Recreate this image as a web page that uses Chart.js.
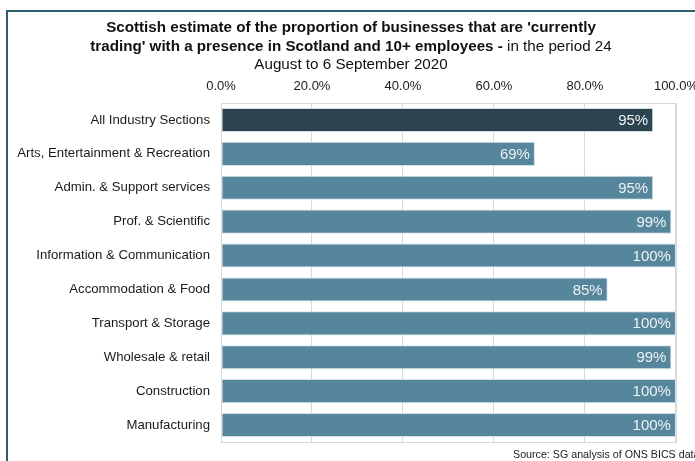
<!DOCTYPE html>
<html>
<head>
<meta charset="utf-8">
<script src="https://cdn.jsdelivr.net/npm/chart.js@4.4.0/dist/chart.umd.min.js"></script>
<style>
  html, body { margin: 0; padding: 0; background: #fff; overflow: hidden; }
  #wrap { position: relative; width: 695px; height: 461px; overflow: hidden; }
</style>
</head>
<body>
<div id="wrap"><canvas id="chart" width="707" height="461"></canvas></div>
<script>
const industries = [
  'All Industry Sections',
  'Arts, Entertainment & Recreation',
  'Admin. & Support services',
  'Prof. & Scientific',
  'Information & Communication',
  'Accommodation & Food',
  'Transport & Storage',
  'Wholesale & retail',
  'Construction',
  'Manufacturing'
]
const tradingPct = [95, 69, 95, 99, 100, 85, 100, 99, 100, 100]
const xTicks = [0, 20, 40, 60, 80, 100]

const titleLines = [
  [{text: "Scottish estimate of the proportion of businesses that are 'currently", bold: true}],
  [{text: "trading' with a presence in Scotland and 10+ employees -", bold: true},
   {text: " in the period 24", bold: false}],
  [{text: 'August to 6 September 2020', bold: false}]
]
const sourceNote = 'Source: SG analysis of ONS BICS data'

const FONT = "'Liberation Sans', Arial, sans-serif"
const DARK = '#2c4450'
const BLUE = '#56869c'

// frame, title, plot box and source line
const decorations = {
  id: 'decorations',
  beforeDraw(chart){
    const ctx = chart.ctx
    ctx.save()
    ctx.strokeStyle = '#2f5e6c'
    ctx.lineWidth = 2
    ctx.strokeRect(7, 11, 800, 600)
    ctx.restore()
  },
  afterDraw(chart){
    const ctx = chart.ctx
    const a = chart.chartArea
    ctx.save()
    ctx.strokeStyle = '#d9d9d9'
    ctx.lineWidth = 1
    ctx.strokeRect(a.left + 0.5, a.top + 0.5, a.right - a.left, a.bottom - a.top)

    // title, mixed bold / regular runs
    ctx.fillStyle = '#111'
    ctx.textBaseline = 'middle'
    const ys = [28, 47, 65]
    titleLines.forEach((runs, i) => {
      let total = 0
      runs.forEach(r => {
        ctx.font = (r.bold ? 'bold ' : '') + '15.2px ' + FONT
        r.w = ctx.measureText(r.text).width
        total += r.w
      })
      let x = 351 - total / 2
      runs.forEach(r => {
        ctx.font = (r.bold ? 'bold ' : '') + '15.2px ' + FONT
        ctx.textAlign = 'left'
        ctx.fillText(r.text, x, ys[i])
        x += r.w
      })
    })

    ctx.font = '10.7px ' + FONT
    ctx.fillStyle = '#222'
    ctx.textAlign = 'left'
    ctx.fillText(sourceNote, 513, 455)
    ctx.restore()
  }
}

// percentage labels inside the bar ends
const barLabels = {
  id: 'barLabels',
  afterDatasetsDraw(chart){
    const ctx = chart.ctx
    const meta = chart.getDatasetMeta(0)
    ctx.save()
    ctx.font = '15px ' + FONT
    ctx.fillStyle = '#eef1f3'
    ctx.textAlign = 'right'
    ctx.textBaseline = 'middle'
    meta.data.forEach((bar, i) => {
      ctx.fillText(tradingPct[i] + '%', bar.x - 5, bar.y + 1)
    })
    ctx.restore()
  }
}

new Chart(document.getElementById('chart'), {
  type: 'bar',
  data: {
    labels: industries,
    datasets: [{
      data: tradingPct,
      backgroundColor: tradingPct.map((v, i) => i === 0 ? DARK : BLUE),
      borderColor: '#d4e0e5',
      borderWidth: 1,
      borderSkipped: false,
      categoryPercentage: 1,
      barPercentage: 0.71
    }]
  },
  options: {
    indexAxis: 'y',
    responsive: false,
    animation: false,
    layout: {autoPadding: false, padding: {left: 0, right: 19, top: 0, bottom: 19}},
    plugins: {legend: {display: false}, tooltip: {enabled: false}},
    scales: {
      x: {
        position: 'top',
        min: 0,
        max: 100,
        afterBuildTicks: s => { s.ticks = xTicks.map(v => ({value: v})) },
        afterFit: s => { s.height = 103 },
        grid: {color: '#d9d9d9', drawTicks: false},
        border: {display: false},
        ticks: {
          padding: 9,
          maxRotation: 0,
          color: '#1a1a1a',
          font: {family: FONT, size: 13},
          callback: v => v.toFixed(1) + '%'
        }
      },
      y: {
        afterFit: s => { s.width = 221 },
        grid: {display: false, drawTicks: false},
        border: {display: false},
        ticks: {
          padding: 11,
          color: '#1a1a1a',
          font: {family: FONT, size: 13.2}
        }
      }
    }
  },
  plugins: [decorations, barLabels]
})
</script>
</body>
</html>
